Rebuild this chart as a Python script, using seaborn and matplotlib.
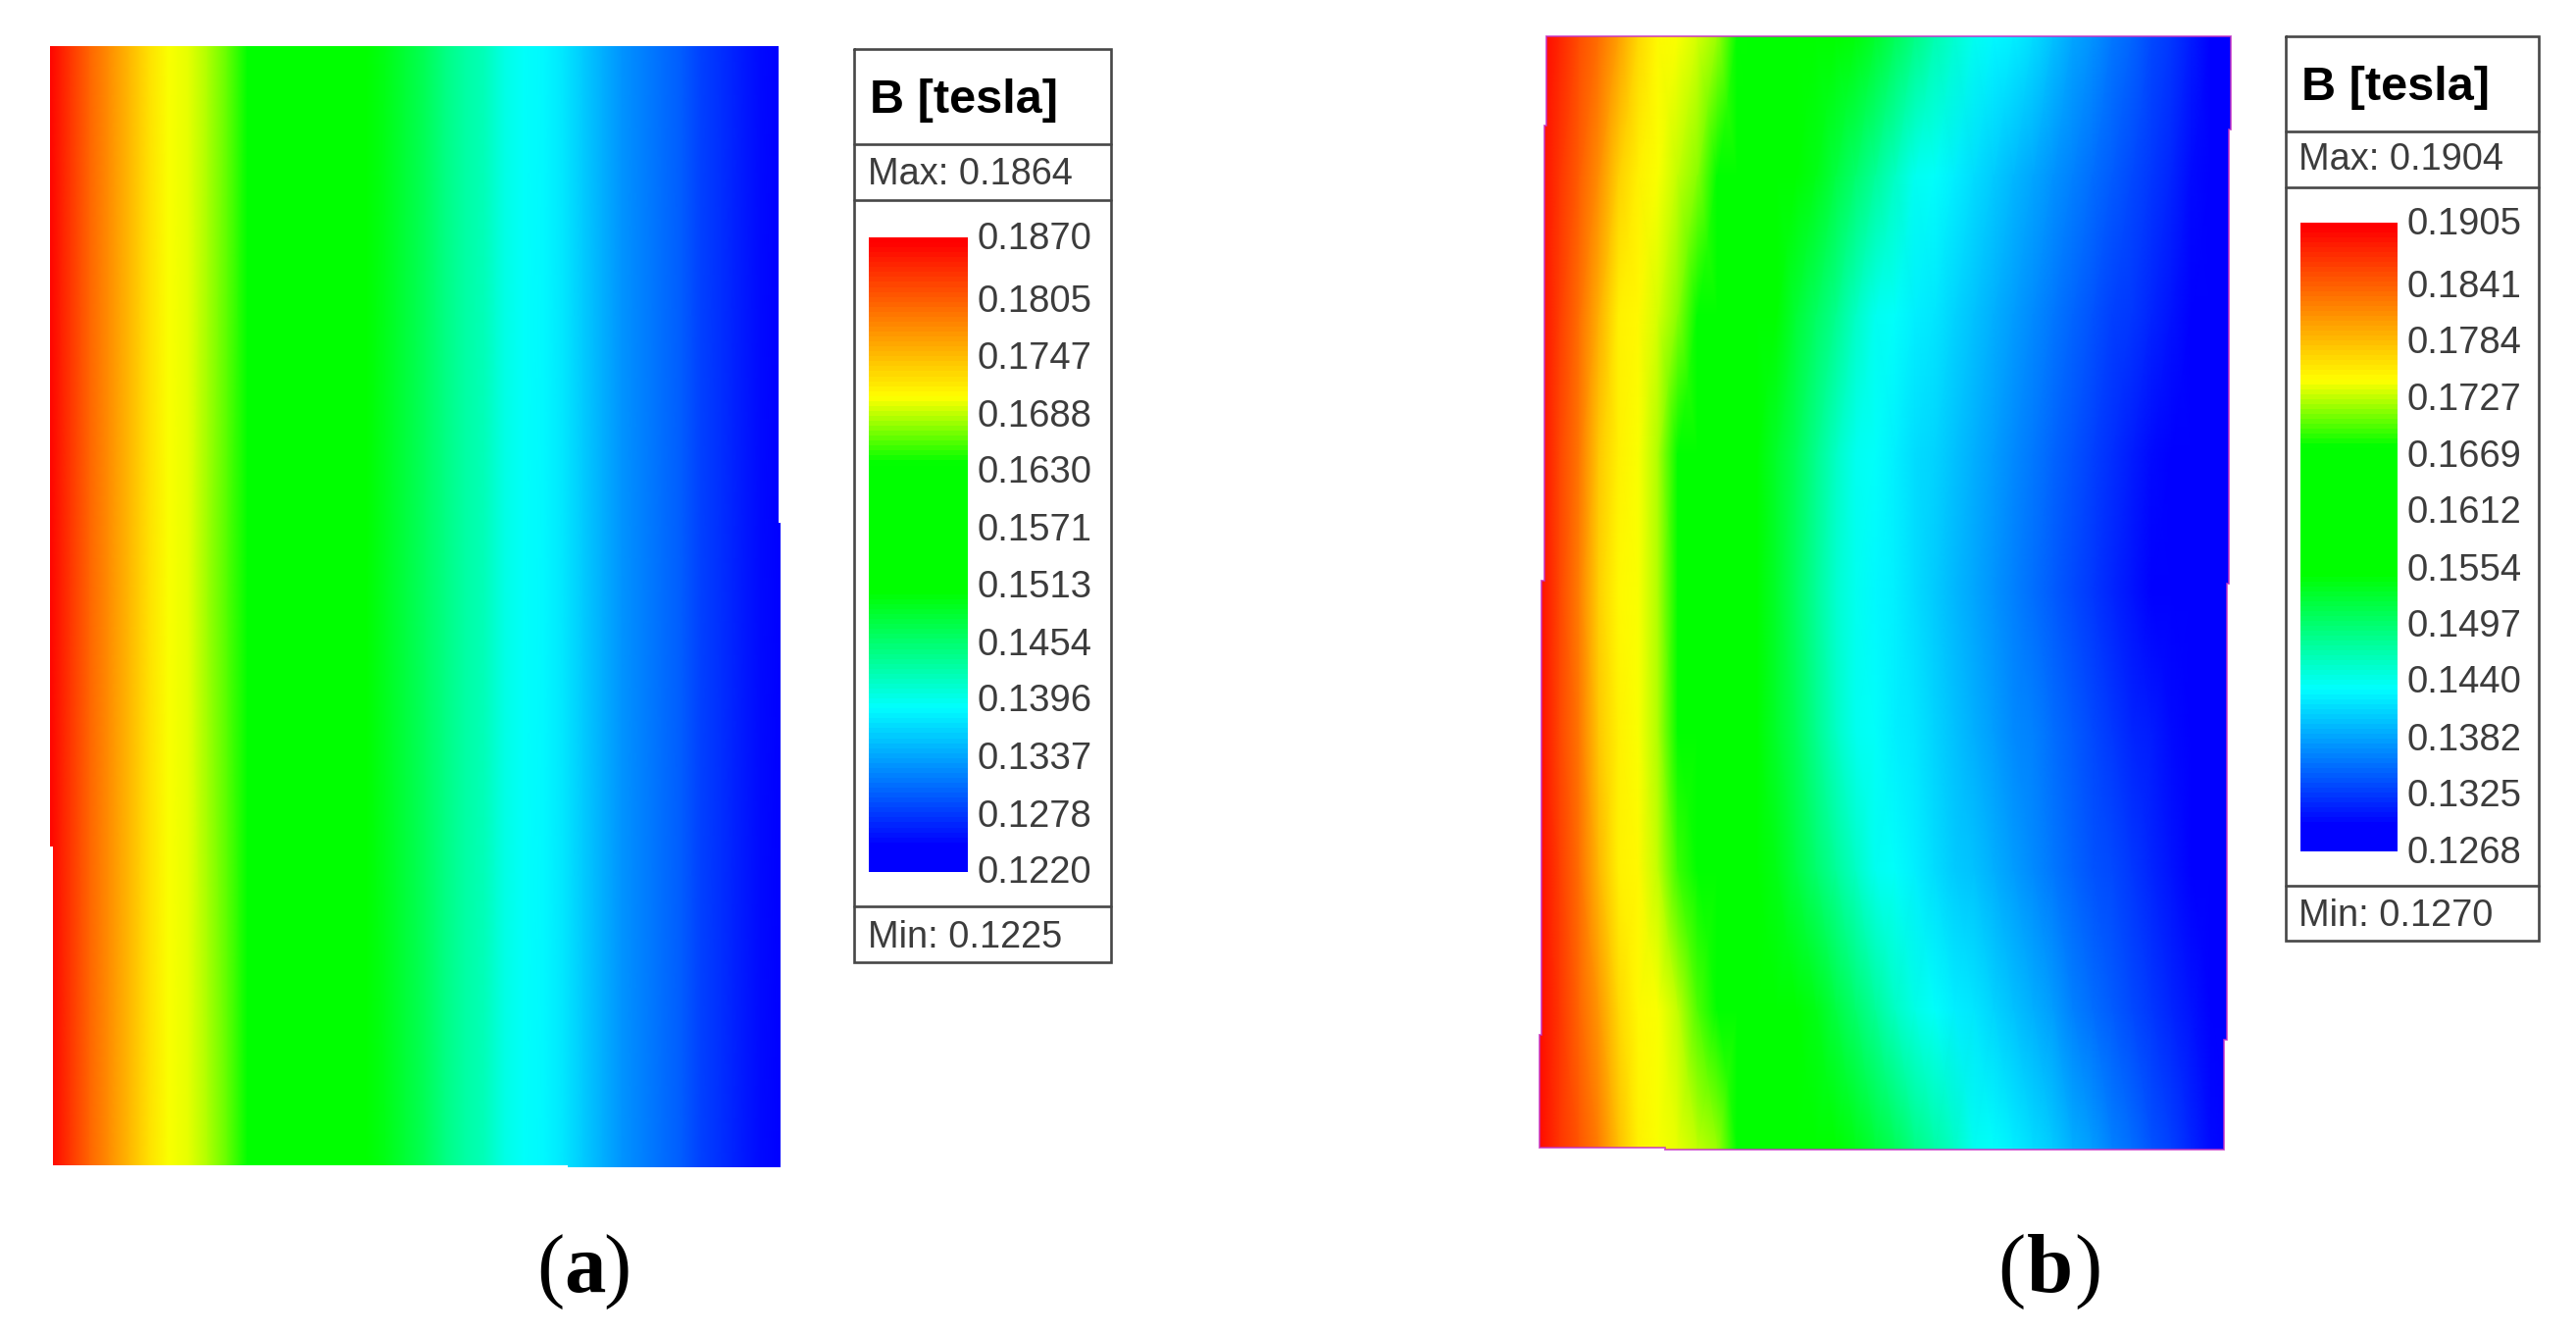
import numpy as np
import seaborn as sns
import matplotlib
matplotlib.use("Agg")
import matplotlib.pyplot as plt
from matplotlib.colors import LinearSegmentedColormap
from matplotlib.lines import Line2D
from matplotlib.patches import Polygon
from matplotlib.transforms import ScaledTranslation

# ---- data: B in units of 1e-4 tesla, left to right, one list per row ----
a_top = [1864,1833,1803,1776,1750,1724,1706,1702,1686,1666,1636,1612,1591,1571,1552,1532,1512,1495,1480,1465,1448,1433,1419,1400,1388,1383,1375,1360,1344,1331,1318,1309,1298,1286,1275,1263,1251,1226]
a_mid = [1864,1833,1803,1776,1750,1724,1706,1702,1682,1661,1631,1607,1586,1566,1547,1527,1507,1492,1477,1463,1448,1433,1419,1400,1388,1383,1375,1360,1344,1331,1318,1309,1298,1286,1275,1263,1251,1226]
a_bot = [1864,1833,1803,1776,1750,1724,1706,1702,1686,1666,1636,1612,1591,1571,1552,1532,1512,1495,1480,1465,1448,1433,1419,1400,1388,1383,1375,1360,1344,1331,1318,1309,1298,1286,1275,1263,1251,1226]

b_r0 = [1900,1877,1855,1832,1801,1767,1750,1743,1731,1720,1677,1654,1633,1611,1589,1568,1546,1528,1509,1491,1472,1454,1440,1432,1424,1413,1400,1387,1374,1361,1348,1335,1323,1310,1297,1280]
b_r1 = [1895,1869,1844,1815,1774,1751,1743,1729,1715,1663,1638,1614,1589,1564,1541,1521,1501,1480,1460,1441,1434,1426,1417,1407,1396,1386,1375,1365,1354,1344,1333,1323,1313,1302,1292,1278]
b_r2 = [1895,1865,1835,1794,1753,1746,1732,1714,1659,1632,1604,1576,1548,1526,1505,1483,1461,1442,1434,1426,1418,1408,1399,1389,1380,1370,1361,1351,1342,1332,1323,1313,1303,1294,1285,1276]
b_r3 = [1895,1860,1826,1778,1751,1743,1725,1675,1645,1615,1585,1555,1531,1508,1485,1462,1441,1434,1426,1417,1408,1398,1388,1378,1368,1358,1348,1339,1329,1319,1309,1299,1289,1285,1280,1275]
b_r4 = [1895,1860,1825,1775,1750,1743,1723,1671,1641,1611,1581,1551,1527,1503,1479,1455,1439,1431,1423,1414,1404,1394,1384,1374,1364,1354,1344,1334,1324,1314,1304,1294,1287,1283,1279,1275]
b_r5 = [1895,1860,1826,1778,1751,1743,1724,1673,1643,1613,1583,1552,1529,1507,1484,1462,1441,1434,1426,1418,1409,1400,1391,1381,1372,1363,1354,1345,1335,1326,1317,1308,1299,1289,1283,1276]
b_r6 = [1895,1864,1833,1790,1753,1746,1730,1695,1653,1624,1595,1567,1541,1520,1499,1478,1458,1441,1434,1425,1416,1407,1398,1389,1379,1370,1361,1352,1342,1333,1324,1315,1305,1296,1287,1277]
b_r7 = [1892,1866,1840,1809,1767,1750,1742,1727,1697,1658,1634,1609,1585,1560,1539,1520,1501,1481,1462,1443,1435,1427,1419,1409,1398,1388,1378,1367,1357,1347,1336,1326,1316,1305,1295,1284]
b_r8 = [1892,1869,1846,1821,1783,1753,1745,1737,1727,1717,1671,1649,1626,1604,1582,1559,1540,1523,1507,1491,1474,1458,1442,1434,1427,1417,1404,1392,1379,1366,1353,1340,1328,1315,1302,1289]

# ---- legend text ----
levels_a = [0.1870,0.1805,0.1747,0.1688,0.1630,0.1571,0.1513,0.1454,0.1396,0.1337,0.1278,0.1220]
levels_b = [0.1905,0.1841,0.1784,0.1727,0.1669,0.1612,0.1554,0.1497,0.1440,0.1382,0.1325,0.1268]
legend_title = "B [tesla]"
max_a, min_a = "Max: 0.1864", "Min: 0.1225"
max_b, min_b = "Max: 0.1904", "Min: 0.1270"

W, H = 2627, 1360
sns.set_theme(style="white")
plt.rcParams["font.family"] = ["Liberation Sans", "DejaVu Sans"]

cmap = LinearSegmentedColormap.from_list(
    "field",
    [(0.0, "#0000ff"), (0.04, "#0000ff"), (0.257, "#00ffff"), (0.44, "#00ff00"),
     (0.645, "#00ff00"), (0.75, "#ffff00"), (0.995, "#ff0000"), (1.0, "#ff0000")],
    N=128,
)

fig = plt.figure(figsize=(W / 100, H / 100), dpi=100, facecolor="white")


def fx(x):
    return x / W


def fy(y):
    return 1 - y / H


def px_axes(x0, y0, x1, y1):
    return fig.add_axes([fx(x0), fy(y1), fx(x1) - fx(x0), fy(y0) - fy(y1)])


def pts_fig(pts):
    return [(fx(x), fy(y)) for x, y in pts]


def field(rows, levels, box, bar, outline):
    data = np.array(rows) / 1e4
    ax = px_axes(*box)
    cax = px_axes(*bar)
    sns.heatmap(data, ax=ax, cmap=cmap, vmin=levels[-1], vmax=levels[0],
                xticklabels=False, yticklabels=False, cbar=True, cbar_ax=cax,
                cbar_kws={"ticks": levels, "format": "%.4f"}, shading="gouraud")
    ax.set_xlim(0, data.shape[1] - 1)
    ax.set_ylim(data.shape[0] - 1, 0)
    ax.axis("off")
    ax.collections[0].set_clip_path(Polygon(pts_fig(outline), closed=True, transform=fig.transFigure))
    cax.tick_params(length=0, pad=7.2, labelsize=27.5, labelcolor="#3c3c3c", right=True, left=False)
    cax.yaxis.set_ticks_position("right")
    up = ScaledTranslation(0, 2.5 / 100, fig.dpi_scale_trans)
    for lab in cax.get_yticklabels():
        lab.set_transform(lab.get_transform() + up)
    for s in cax.spines.values():
        s.set_visible(False)
    return ax


def frame(x0, x1, y0, y1, h1, h2, h3):
    c = "#474747"
    lw = 1.9
    xs = [x0, x1, x1, x0, x0]
    ys = [y0, y0, y1, y1, y0]
    fig.add_artist(Line2D([fx(v) for v in xs], [fy(v) for v in ys], color=c, lw=lw, solid_joinstyle="miter"))
    for h in (h1, h2, h3):
        fig.add_artist(Line2D([fx(x0), fx(x1)], [fy(h), fy(h)], color=c, lw=lw))


def txt(x, y, s, **kw):
    fig.text(fx(x), fy(y), s, **kw)


# panel (a)
outline_a = [(51,47),(794,47),(794,533),(796,533),(796,1190),(579,1190),(579,1188),(54,1188),(54,863),(51,863)]
field([a_top, a_mid, a_bot], levels_a, (51,47,796,1190), (886,242,987,889), outline_a)
frame(871, 1133, 50, 981, 147, 204, 924)
txt(887, 115, legend_title, fontsize=35, fontweight="bold", color="black", va="baseline")
txt(885, 178, max_a, fontsize=27.3, color="#3c3c3c", va="center")
txt(885, 956, min_a, fontsize=27.3, color="#3c3c3c", va="center")

# panel (b)
outline_b = [(1577,37),(2275,37),(2275,132),(2273,132),(2273,595),(2271,595),(2271,1060),(2268,1060),
             (2268,1172),(1698,1172),(1698,1170),(1570,1170),(1570,1055),(1572,1055),(1572,592),
             (1575,592),(1575,128),(1577,128)]
field([b_r0,b_r1,b_r2,b_r3,b_r4,b_r5,b_r6,b_r7,b_r8], levels_b, (1570,37,2275,1172), (2346,227,2445,868), outline_b)
fig.add_artist(Polygon(pts_fig(outline_b), closed=True, fill=False, edgecolor="#c42ec4",
                       lw=1.3, alpha=0.8, transform=fig.transFigure))
frame(2331, 2589, 37, 959, 134, 191, 903)
txt(2347, 102, legend_title, fontsize=35, fontweight="bold", color="black", va="baseline")
txt(2344, 163, max_b, fontsize=27.3, color="#3c3c3c", va="center")
txt(2344, 934, min_b, fontsize=27.3, color="#3c3c3c", va="center")

# captions
serif = "Liberation Serif"
for (xl, xm, xr, letter) in [(561, 596, 629, "a"), (2051, 2090, 2129, "b")]:
    txt(xl, 1317, "(", fontsize=61, family=serif, ha="center", va="baseline", color="black")
    txt(xm, 1317, letter, fontsize=61, family=serif, fontweight="bold", ha="center", va="baseline", color="black")
    txt(xr, 1317, ")", fontsize=61, family=serif, ha="center", va="baseline", color="black")

fig.savefig("out.png", dpi=100, facecolor="white")
